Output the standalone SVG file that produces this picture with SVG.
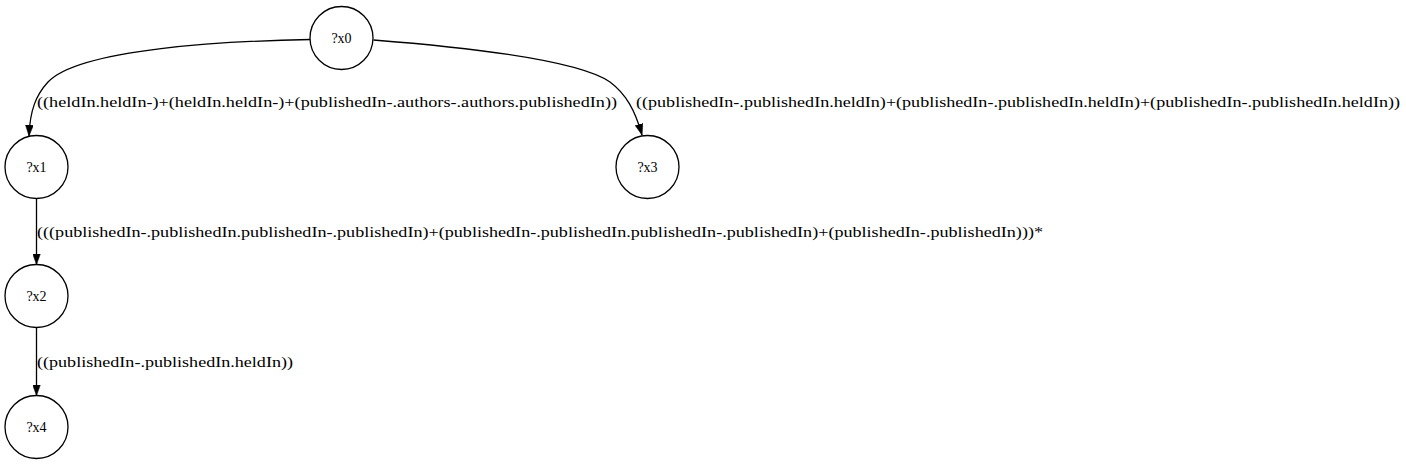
<svg xmlns="http://www.w3.org/2000/svg" width="1406" height="464" viewBox="0 0 1406 464">
<style>
.node circle{fill:#fff;stroke:#000;stroke-width:1.3}
.node text,.lbl{font-family:"Liberation Serif","Times New Roman",serif;font-size:14px;fill:#000}
.node text{text-anchor:middle}
.edge{fill:none;stroke:#000;stroke-width:1.3}
</style>
<defs>
<marker id="ah" markerWidth="11" markerHeight="8" refX="11" refY="4" orient="auto" markerUnits="userSpaceOnUse">
<polygon points="0,0 11,4 0,8" fill="#000" stroke="#000" stroke-width="0.5"/>
</marker>
</defs>
<rect width="1406" height="464" fill="#fff"/>
<g id="connectors">
<path class="edge" d="M310.5,39.5 C230,41 80,48 48,82 C36,95 30,110 29,136" marker-end="url(#ah)"/>
<path class="edge" d="M373.5,40 C450,46 575,58 610,82 C626,94 635,110 642,135" marker-end="url(#ah)"/>
<path class="edge" d="M36.5,198.5 L36.5,264.5" marker-end="url(#ah)"/>
<path class="edge" d="M36.5,327.5 L36.5,395.5" marker-end="url(#ah)"/>
<text class="lbl" x="37" y="107" textLength="580" lengthAdjust="spacingAndGlyphs">((heldIn.heldIn-)+(heldIn.heldIn-)+(publishedIn-.authors-.authors.publishedIn))</text>
<text class="lbl" x="636" y="107" textLength="764" lengthAdjust="spacingAndGlyphs">((publishedIn-.publishedIn.heldIn)+(publishedIn-.publishedIn.heldIn)+(publishedIn-.publishedIn.heldIn))</text>
<text class="lbl" x="37" y="237" textLength="1006" lengthAdjust="spacingAndGlyphs">(((publishedIn-.publishedIn.publishedIn-.publishedIn)+(publishedIn-.publishedIn.publishedIn-.publishedIn)+(publishedIn-.publishedIn)))*</text>
<text class="lbl" x="37" y="367" textLength="256" lengthAdjust="spacingAndGlyphs">((publishedIn-.publishedIn.heldIn))</text>
</g>
<g id="x0" class="node"><circle cx="341.5" cy="38" r="31.5"/><text x="341.5" y="43">?x0</text></g>
<g id="x1" class="node"><circle cx="36.5" cy="167" r="31.5"/><text x="36.5" y="172">?x1</text></g>
<g id="x3" class="node"><circle cx="647.5" cy="167" r="31.5"/><text x="647.5" y="172">?x3</text></g>
<g id="x2" class="node"><circle cx="36.5" cy="296" r="31.5"/><text x="36.5" y="301">?x2</text></g>
<g id="x4" class="node"><circle cx="36.5" cy="427" r="31.5"/><text x="36.5" y="432">?x4</text></g>
</svg>
